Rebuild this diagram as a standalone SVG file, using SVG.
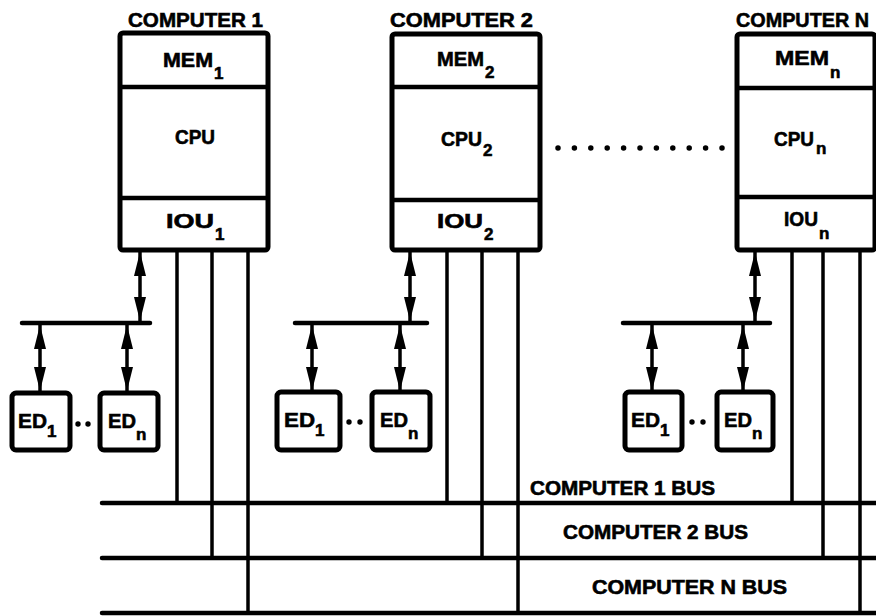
<svg xmlns="http://www.w3.org/2000/svg" width="876" height="616" viewBox="0 0 876 616">
<style>
text{font-family:"Liberation Sans",Arial,sans-serif;font-weight:bold;fill:#000;stroke:#000;stroke-width:0.6}
.title{font-size:21px}
.lbl{font-size:20px}
.ed{font-size:21px}
.sub{font-size:17px}
.box{fill:#fff;stroke:#000;stroke-width:5}
.div{stroke:#000;stroke-width:4.5}
.ln{stroke:#000;stroke-width:3.5;fill:none}
.bus{stroke:#000;stroke-width:4.5;fill:none;stroke-linecap:round}
.arr{stroke:#000;stroke-width:3.5;marker-start:url(#ah);marker-end:url(#ah)}
.dot{fill:#000}
</style>
<defs>
<marker id="ah" viewBox="0 0 24 12" refX="24" refY="6" markerWidth="24" markerHeight="12" markerUnits="userSpaceOnUse" orient="auto-start-reverse">
<path d="M0,0 L24,6 L0,12 Z" fill="#000"/>
</marker>
</defs>
<rect width="876" height="616" fill="#fff"/>

<g id="connectors">
<line class="bus" x1="102" y1="503" x2="878" y2="503"/>
<line class="bus" x1="102" y1="558" x2="878" y2="558"/>
<line class="bus" x1="102" y1="613" x2="878" y2="613"/>
<line class="ln" x1="177" y1="250" x2="177" y2="503"/>
<line class="ln" x1="212" y1="250" x2="212" y2="558"/>
<line class="ln" x1="248" y1="250" x2="248" y2="613"/>
<line class="ln" x1="447" y1="250" x2="447" y2="503"/>
<line class="ln" x1="482" y1="250" x2="482" y2="558"/>
<line class="ln" x1="518" y1="250" x2="518" y2="613"/>
<line class="ln" x1="792" y1="250" x2="792" y2="503"/>
<line class="ln" x1="823" y1="250" x2="823" y2="558"/>
<line class="ln" x1="860" y1="250" x2="860" y2="613"/>
<line class="bus" x1="22" y1="323" x2="150" y2="323"/>
<line class="bus" x1="295" y1="323" x2="427" y2="323"/>
<line class="bus" x1="623" y1="323" x2="770" y2="323"/>
<line class="arr" x1="140" y1="252" x2="140" y2="321"/>
<line class="arr" x1="410" y1="252" x2="410" y2="321"/>
<line class="arr" x1="755" y1="252" x2="755" y2="321"/>
<line class="arr" x1="40" y1="325" x2="40" y2="391"/>
<line class="arr" x1="127" y1="325" x2="127" y2="391"/>
<line class="arr" x1="312" y1="325" x2="312" y2="391"/>
<line class="arr" x1="400" y1="325" x2="400" y2="391"/>
<line class="arr" x1="652" y1="325" x2="652" y2="391"/>
<line class="arr" x1="743" y1="325" x2="743" y2="391"/>
<line x1="558" y1="148" x2="722" y2="148" stroke="#000" stroke-width="5.5" stroke-linecap="round" stroke-dasharray="0 16.4"/>
</g>

<g id="computer1">
<text class="title" x="128" y="27" textLength="135" lengthAdjust="spacingAndGlyphs">COMPUTER 1</text>
<rect class="box" x="120" y="33" width="148" height="217" rx="3"/>
<line class="div" x1="120" y1="87" x2="268" y2="87"/>
<line class="div" x1="120" y1="198" x2="268" y2="198"/>
<text class="lbl" x="163" y="67"><tspan textLength="50" lengthAdjust="spacingAndGlyphs">MEM</tspan><tspan class="sub" dx="1" dy="12">1</tspan></text>
<text class="lbl" x="175" y="144" textLength="40" lengthAdjust="spacingAndGlyphs">CPU</text>
<text class="lbl" x="166" y="228"><tspan textLength="48" lengthAdjust="spacingAndGlyphs">IOU</tspan><tspan class="sub" dx="1" dy="12">1</tspan></text>
</g>

<g id="computer2">
<text class="title" x="390" y="27" textLength="143" lengthAdjust="spacingAndGlyphs">COMPUTER 2</text>
<rect class="box" x="392" y="34" width="148" height="216" rx="3"/>
<line class="div" x1="392" y1="87" x2="540" y2="87"/>
<line class="div" x1="392" y1="200" x2="540" y2="200"/>
<text class="lbl" x="437" y="66"><tspan textLength="47" lengthAdjust="spacingAndGlyphs">MEM</tspan><tspan class="sub" dx="1" dy="12">2</tspan></text>
<text class="lbl" x="441" y="146"><tspan textLength="41" lengthAdjust="spacingAndGlyphs">CPU</tspan><tspan class="sub" dx="1" dy="10">2</tspan></text>
<text class="lbl" x="437" y="228"><tspan textLength="46" lengthAdjust="spacingAndGlyphs">IOU</tspan><tspan class="sub" dx="1" dy="12">2</tspan></text>
</g>

<g id="computerN">
<text class="title" x="736" y="27" textLength="133" lengthAdjust="spacingAndGlyphs">COMPUTER N</text>
<rect class="box" x="737" y="34" width="138" height="216" rx="3"/>
<line class="div" x1="737" y1="88" x2="875" y2="88"/>
<line class="div" x1="737" y1="197" x2="875" y2="197"/>
<text class="lbl" x="775" y="65"><tspan textLength="54" lengthAdjust="spacingAndGlyphs">MEM</tspan><tspan class="sub" dx="1" dy="13">n</tspan></text>
<text class="lbl" x="774" y="146"><tspan textLength="40" lengthAdjust="spacingAndGlyphs">CPU</tspan><tspan class="sub" dx="2" dy="8">n</tspan></text>
<text class="lbl" x="784" y="226"><tspan textLength="34" lengthAdjust="spacingAndGlyphs">IOU</tspan><tspan class="sub" dx="1" dy="13">n</tspan></text>
</g>

<g id="ed1-1">
<rect class="box" x="12" y="393" width="58" height="57" rx="4"/>
<text class="ed" x="18" y="428"><tspan textLength="29" lengthAdjust="spacingAndGlyphs">ED</tspan><tspan class="sub" dy="9">1</tspan></text>
</g>
<circle class="dot" cx="78" cy="424" r="2.7"/>
<circle class="dot" cx="88" cy="424" r="2.7"/>
<g id="edn-1">
<rect class="box" x="100" y="393" width="58" height="57" rx="4"/>
<text class="ed" x="108" y="428"><tspan textLength="28" lengthAdjust="spacingAndGlyphs">ED</tspan><tspan class="sub" dy="12">n</tspan></text>
</g>

<g id="ed1-2">
<rect class="box" x="277" y="392" width="63" height="58" rx="4"/>
<text class="ed" x="284" y="427"><tspan textLength="31" lengthAdjust="spacingAndGlyphs">ED</tspan><tspan class="sub" dy="9">1</tspan></text>
</g>
<circle class="dot" cx="349" cy="422" r="2.7"/>
<circle class="dot" cx="360" cy="422" r="2.7"/>
<g id="edn-2">
<rect class="box" x="372" y="392" width="58" height="58" rx="4"/>
<text class="ed" x="380" y="427"><tspan textLength="28" lengthAdjust="spacingAndGlyphs">ED</tspan><tspan class="sub" dy="12">n</tspan></text>
</g>

<g id="ed1-N">
<rect class="box" x="625" y="392" width="57" height="58" rx="4"/>
<text class="ed" x="631" y="427"><tspan textLength="29" lengthAdjust="spacingAndGlyphs">ED</tspan><tspan class="sub" dy="9">1</tspan></text>
</g>
<circle class="dot" cx="692" cy="422" r="2.7"/>
<circle class="dot" cx="703" cy="422" r="2.7"/>
<g id="edn-N">
<rect class="box" x="717" y="392" width="56" height="58" rx="4"/>
<text class="ed" x="724" y="427"><tspan textLength="28" lengthAdjust="spacingAndGlyphs">ED</tspan><tspan class="sub" dy="12">n</tspan></text>
</g>

<g id="bus-labels">
<text class="lbl" x="530" y="495" textLength="185" lengthAdjust="spacingAndGlyphs">COMPUTER 1 BUS</text>
<text class="lbl" x="563" y="539" textLength="185" lengthAdjust="spacingAndGlyphs">COMPUTER 2 BUS</text>
<text class="lbl" x="592" y="594" textLength="195" lengthAdjust="spacingAndGlyphs">COMPUTER N BUS</text>
</g>
</svg>
